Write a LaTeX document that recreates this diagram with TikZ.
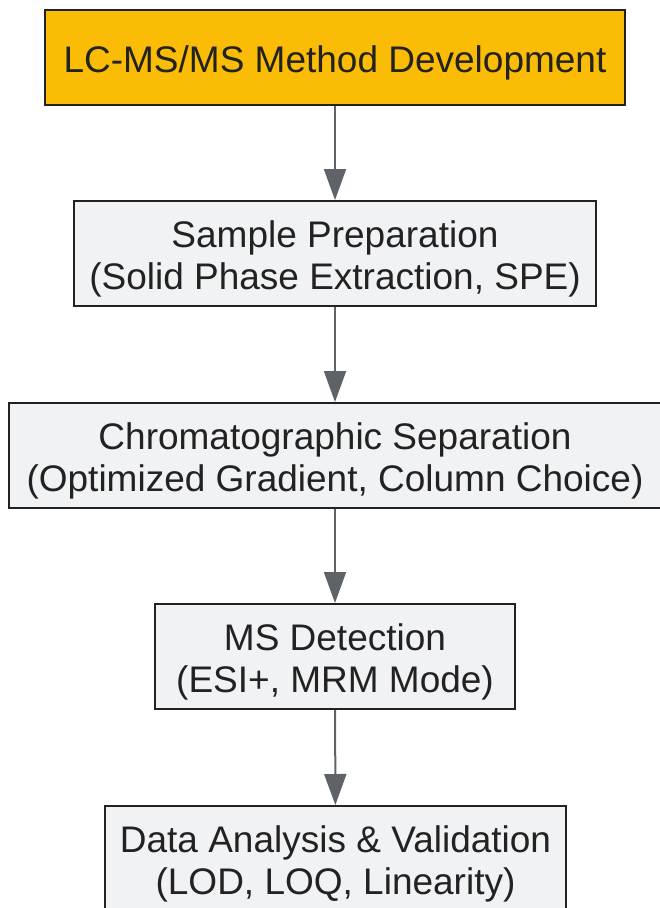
\documentclass[tikz,border=0pt]{standalone}
\usepackage{fontspec}
\setmainfont{Liberation Sans}
\usepackage{xcolor}
\usetikzlibrary{arrows.meta,positioning}

\definecolor{stepgold}{HTML}{FBBC05}
\definecolor{stepgray}{HTML}{F1F2F4}
\definecolor{edgegray}{HTML}{5F6368}
\definecolor{inkdark}{HTML}{222222}

\begin{document}
\begin{tikzpicture}
  [x=1pt,y=-1pt,
   every node/.style={draw=inkdark,line width=2pt,fill=stepgray,text=inkdark,
     align=center,inner sep=0pt,minimum height=105pt,
     text height=80pt,text depth=8pt,
     font=\fontsize{37}{42}\selectfont},
   topbox/.style={fill=stepgold,minimum height=95pt,text height=38pt},
   flow/.style={draw=edgegray,line width=2pt,-{Triangle[width=22pt,length=31pt]}}]
  \useasboundingbox (0,0) rectangle (659,908);

  \node[topbox,minimum width=580pt] (dev) at (335,57.5) {LC-MS/MS Method Development};
  \node[minimum width=522pt] (prep) at (335,253.5) {Sample Preparation\\(Solid Phase Extraction, SPE)};
  \node[minimum width=652pt] (sep) at (335,455.5) {Chromatographic Separation\\(Optimized Gradient, Column Choice)};
  \node[minimum width=360pt] (det) at (335,656.5) {MS Detection\\(ESI+, MRM Mode)};
  %\node (rep) at (335,1000) {Report};
  \node[minimum width=461pt] (val) at (335.5,858.5) {Data Analysis \& Validation\\(LOD, LOQ, Linearity)};

  \foreach \from/\to in {dev/prep,prep/sep,sep/det,det/val}
    \draw[flow] (\from) -- (\to);

\end{tikzpicture}
\end{document}
